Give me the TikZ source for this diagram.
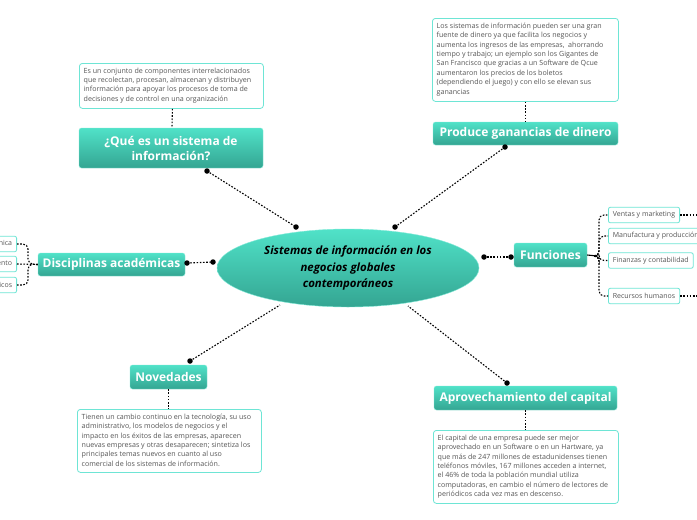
\documentclass[tikz,border=0pt]{standalone}
\usepackage{fontspec}
\setmainfont{Open Sans}
\usetikzlibrary{shapes.geometric}
\definecolor{tealtop}{HTML}{50E2C8}
\definecolor{tealbot}{HTML}{34A592}
\definecolor{noteline}{HTML}{6EE5D5}
\definecolor{notetext}{HTML}{555555}
\tikzset{
  titlebox/.style={rectangle, rounded corners=2.5pt, top color=tealtop, bottom color=tealbot,
    draw=tealtop!70!white, line width=0.4pt, text=white, font=\fontsize{12}{15}\selectfont\bfseries,
    align=center, inner sep=0pt},
  notebox/.style={rectangle, rounded corners=3pt, draw=noteline, line width=0.8pt, fill=white,
    anchor=north west, inner sep=0pt},
  notetxt/.style={text=notetext, font=\fontsize{7.1}{9.45}\selectfont, align=left, anchor=north west,
    inner sep=0pt},
  leafbox/.style={rectangle, rounded corners=2pt, draw=noteline, line width=0.8pt, fill=white,
    text=notetext, font=\fontsize{7}{8}\selectfont, inner xsep=4.5pt, inner ysep=0pt, minimum height=15.5pt},
  conn/.style={draw=black, line width=1.1pt, dash pattern=on 1.6pt off 1.6pt},
  dotmark/.style={circle, fill=black, inner sep=0pt, minimum size=5.5pt},
}
\begin{document}
\begin{tikzpicture}[x=1pt,y=-1pt]
\useasboundingbox (0,0) rectangle (697,520);
\clip (0,0) rectangle (697,520);
\fill[white] (0,0) rectangle (697,520);

% central ellipse
\node[ellipse, top color=tealtop, bottom color=tealbot, draw=tealtop!70!white, line width=0.4pt,
  minimum width=262pt, minimum height=78pt, inner sep=0pt, align=center,
  font=\fontsize{11.4}{16.5}\selectfont\bfseries\itshape] (C) at (348,268)
  {Sistemas de información en los\\negocios globales\\contemporáneos};

% title boxes
\node[titlebox, minimum width=184pt, minimum height=40pt] (Q) at (171,148) {¿Qué es un sistema de\\información?};
\node[titlebox, minimum width=185pt, minimum height=23pt] (P) at (525.5,133.5) {Produce ganancias de dinero};
\node[titlebox, minimum width=147pt, minimum height=23pt] (D) at (111.5,264.5) {Disciplinas académicas};
\node[titlebox, minimum width=73pt, minimum height=24pt] (F) at (550.5,255) {Funciones};
\node[titlebox, minimum width=77pt, minimum height=24pt] (N) at (168.5,377) {Novedades};
\node[titlebox, minimum width=183pt, minimum height=24pt] (A) at (525.5,398) {Aprovechamiento del capital};

% notes (frames)
\node[notebox, minimum width=184pt, minimum height=45pt] (Qn) at (79,63) {};
\node[notebox, minimum width=186pt, minimum height=83pt] (Pn) at (432,18) {};
\node[notebox, minimum width=184pt, minimum height=63pt] (Nn) at (77,409) {};
\node[notebox, minimum width=185pt, minimum height=73pt] (An) at (433,430) {};
% notes (texts)
\node[notetxt] (Qt) at ([xshift=4.5pt,yshift=-4.5pt]Qn.north west)
 {Es un conjunto de componentes interrelacionados\\que recolectan, procesan, almacenan y distribuyen\\información para apoyar los procesos de toma de\\decisiones y de control en una organización};
\node[notetxt] (Pt) at ([xshift=4.5pt,yshift=-4.5pt]Pn.north west)
 {Los sistemas de información pueden ser una gran\\fuente de dinero ya que facilita los negocios y\\aumenta los ingresos de las empresas,~ ahorrando\\tiempo y trabajo; un ejemplo son los Gigantes de\\San Francisco que gracias a un Software de Qcue\\aumentaron los precios de los boletos\\(dependiendo el juego) y con ello se elevan sus\\ganancias};
\node[notetxt] (Nt) at ([xshift=4.5pt,yshift=-4.5pt]Nn.north west)
 {Tienen un cambio continuo en la tecnología, su uso\\administrativo, los modelos de negocios y el\\impacto en los éxitos de las empresas, aparecen\\nuevas empresas y otras desaparecen; sintetiza los\\principales temas nuevos en cuanto al uso\\comercial de los sistemas de información.};
\node[notetxt] (At) at ([xshift=4.5pt,yshift=-4.5pt]An.north west)
 {El capital de una empresa puede ser mejor\\aprovechado en un Software o en un Hartware, ya\\que más de 247 millones de estadunidenses tienen\\teléfonos móviles, 167 millones acceden a internet,\\el 46\% de toda la población mundial utiliza\\computadoras, en cambio el número de lectores de\\periódicos cada vez mas en descenso.};

% left leaves
\node[leafbox, anchor=east] (L1) at (17,244) {Perspectiva técnica};
\node[leafbox, anchor=east] (L2) at (17,264) {Enfoque del comportamiento};
\node[leafbox, anchor=east] (L3) at (17,285) {Sistemas sociotécnicos};

% right leaves
\node[leafbox, anchor=west] (R1) at (608,215) {Ventas y marketing};
\node[leafbox, anchor=west] (R2) at (608,236) {Manufactura y producción};
\node[leafbox, anchor=west] (R3) at (608,260.5) {Finanzas y contabilidad};
\node[leafbox, anchor=west] (R4) at (608,296) {Recursos humanos};
\coordinate (R1e) at (697,215);
\coordinate (R4e) at (697,296);

% connector end points
\coordinate (cQ) at (296,227);
\coordinate (cP) at (395,227);
\coordinate (cD) at (213,262);
\coordinate (cF) at (484,257);
\coordinate (cN) at (280,305);
\coordinate (cA) at (408,306);
\coordinate (eQ) at (207,171);
\coordinate (eP) at (505,147);
\coordinate (eD) at (187,263);
\coordinate (eF) at (511,257);
\coordinate (eN) at (190,361);
\coordinate (eA) at (507,383);

\draw[conn] (eQ) -- (cQ);
\draw[conn] (eP) -- (cP);
\draw[conn] (eD) -- (cD);
\draw[conn] (eF) -- (cF);
\draw[conn] (eN) -- (cN);
\draw[conn] (eA) -- (cA);
\foreach \p in {cQ,cP,cD,cF,eQ,eP,eD,eF,eN,eA} \node[dotmark] at (\p) {};

% note connectors
\draw[conn] ([xshift=1pt]Qn.south) -- ([xshift=1pt]Q.north);
\draw[conn] (Pn.south -| P.north) -- (P.north);
\draw[conn] (N.south) -- (N.south |- Nn.north);
\draw[conn] (A.south) -- (A.south |- An.north);

% left bracket
\draw[conn, rounded corners=5pt] (L1.east) -- (28,244) -- (28,264) -- (D.west);
\draw[conn, rounded corners=5pt] (L3.east) -- (28,285) -- (28,264) -- (D.west);
\draw[conn] (L2.east) -- (D.west);

% right bracket
\draw[line width=1.1pt] (F.east) -- (597,256);
\draw[conn, rounded corners=5pt] (597,256) -- (599,256) -- (599,215) -- (R1.west);
\draw[conn, rounded corners=5pt] (597,256) -- (599,256) -- (599,236) -- (R2.west);
\draw[conn, rounded corners=5pt] (597,256) -- (599,256) -- (599,260.5) -- (R3.west);
\draw[conn, rounded corners=5pt] (597,256) -- (599,256) -- (599,296) -- (R4.west);
\draw[conn] (R1.east) -- (R1e);
\draw[conn] (R4.east) -- (R4e);
\end{tikzpicture}
\end{document}
